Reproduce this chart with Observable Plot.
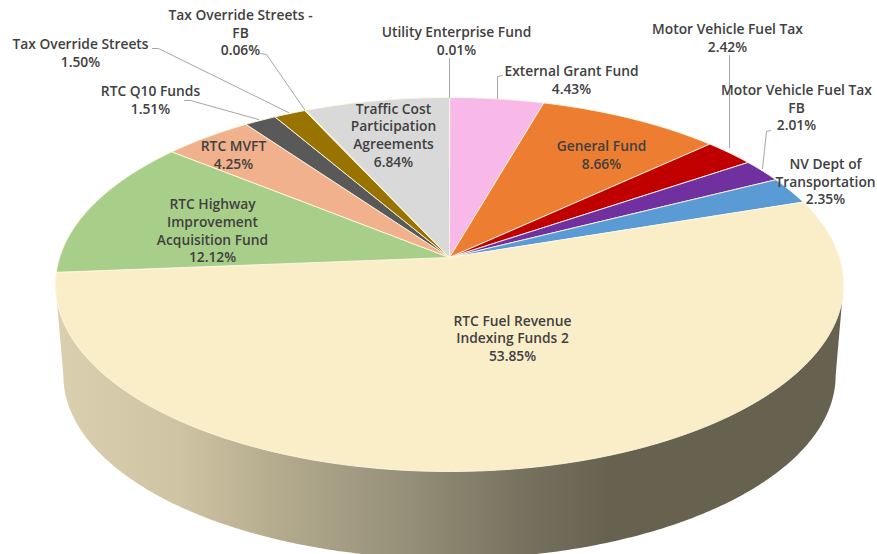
<!DOCTYPE html>
<html>
<head>
<meta charset="utf-8">
<script src="https://cdn.jsdelivr.net/npm/d3@7"></script>
<script src="https://cdn.jsdelivr.net/npm/@observablehq/plot@0.6"></script>
<style>
html,body{margin:0;padding:0;background:#fff;}
svg{display:block;}
</style>
</head>
<body>
<div id="chart"></div>
<script>
// Data, clockwise from twelve o'clock
const funds = ["Utility Enterprise Fund","External Grant Fund","General Fund","Motor Vehicle Fuel Tax","Motor Vehicle Fuel Tax FB","NV Dept of Transportation","RTC Fuel Revenue Indexing Funds 2","RTC Highway Improvement Acquisition Fund","RTC MVFT","RTC Q10 Funds","Tax Override Streets","Tax Override Streets - FB","Traffic Cost Participation Agreements"];
const shares = [0.01,4.43,8.66,2.42,2.01,2.35,53.85,12.12,4.25,1.51,1.50,0.06,6.84];
const sliceColors = ["#f2f2f2","#f8b9e9","#ed7d31","#c00000","#7030a0","#5b9bd5","#faeec9","#a8cf8a","#f0b18c","#595959","#997300","#ffd966","#d9d9d9"];
const labelLines = [["Utility Enterprise Fund"],["External Grant Fund"],["General Fund"],["Motor Vehicle Fuel Tax"],["Motor Vehicle Fuel Tax","FB"],["NV Dept of","Transportation"],["RTC Fuel Revenue","Indexing Funds 2"],["RTC Highway","Improvement","Acquisition Fund"],["RTC MVFT"],["RTC Q10 Funds"],["Tax Override Streets"],["Tax Override Streets -","FB"],["Traffic Cost","Participation","Agreements"]];

// Layout (chart units)
const labelX = [456,571,601,727,796,825,512,212,233,150,80,240,393];
const labelY = [41,80,155,38,107.5,181.5,338,230.5,155,100,53,32.5,135];
const leaders = [
  [[449,58],[449,97]],
  [[502,75],[497,76],[497,98]],
  [[729,55],[729,147]],
  [[770,130],[766,131],[762,168]],
  [[184,100],[190,100],[258,119]],
  [[152,48],[158,48],[288,112]],
  [[260,53],[266,54],[304,109]]
];
const W = 877, H = 554;
const apex = {x:449, y:257}, persp = 0.1444, a = 389.9, b = 183.1;
const wall = {scale:0.98, drop:91.5};

// Perspective projection of the unit pie disc
const project = (t, s = 1, d = 0) => {
  const px = Math.sin(t), py = Math.cos(t), q = 1 + persp * py;
  return {x: apex.x + s * a * px / q, y: apex.y + d - s * b * py / q};
};

const total = d3.sum(shares);
let acc = 0;
const slicePts = [];
funds.forEach((name, i) => {
  const t0 = acc / total * 2 * Math.PI;
  acc += shares[i];
  const t1 = acc / total * 2 * Math.PI;
  const n = Math.max(2, Math.ceil((t1 - t0) / 0.01));
  slicePts.push({name, ...apex});
  for (let j = 0; j <= n; j++) slicePts.push({name, ...project(t0 + (t1 - t0) * j / n)});
  slicePts.push({name, ...apex});
});

// Side wall: from the widest point on the right, round the lower rim, to the widest on the left
const tw = Math.PI / 2 + Math.asin(persp);
const wallPts = [project(tw)];
for (let t = tw; t <= 2 * Math.PI - tw; t += 0.01) wallPts.push(project(t, wall.scale, wall.drop));
wallPts.push(project(2 * Math.PI - tw));

const labelData = funds.map((f, i) => ({
  x: labelX[i], y: labelY[i],
  text: [...labelLines[i], shares[i].toFixed(2) + "%"].join("\n")
}));
const leaderPts = leaders.flatMap((l, i) => l.map(([x, y]) => ({i, x, y})));

const defs = () => {
  const ns = "http://www.w3.org/2000/svg";
  const g = document.createElementNS(ns, "defs");
  g.innerHTML = `<linearGradient id="wallGrad" gradientUnits="userSpaceOnUse" x1="60" x2="610" y1="0" y2="0">
    <stop offset="0" stop-color="#dad0af"/>
    <stop offset="0.22" stop-color="#cec4a3"/>
    <stop offset="0.38" stop-color="#b6ad8f"/>
    <stop offset="0.62" stop-color="#97907a"/>
    <stop offset="0.84" stop-color="#77725f"/>
    <stop offset="1" stop-color="#67624f"/>
  </linearGradient>`;
  return g;
};

const chart = Plot.plot({
  width: W, height: H,
  margin: 0,
  style: {background: "#fff", fontFamily: "'Open Sans', sans-serif"},
  x: {domain: [0, W], range: [0, W], axis: null},
  y: {domain: [0, H], range: [0, H], axis: null},
  color: {domain: funds, range: sliceColors},
  marks: [
    defs,
    Plot.line(wallPts, {x: "x", y: "y", fill: "url(#wallGrad)", stroke: "none"}),
    Plot.line(slicePts, {x: "x", y: "y", z: "name", fill: "name", stroke: "#fff7e2", strokeWidth: 0.9, strokeLinejoin: "round"}),
    Plot.line(leaderPts, {x: "x", y: "y", z: "i", stroke: "#a6a6a6", strokeWidth: 1}),
    Plot.text(labelData, {x: "x", y: "y", dy: -1, text: "text", fontSize: 13.8, fontWeight: 600, lineHeight: 1.28, fill: "#404040", lineAnchor: "middle", textAnchor: "middle"})
  ]
});
document.getElementById("chart").appendChild(chart);
</script>
</body>
</html>
